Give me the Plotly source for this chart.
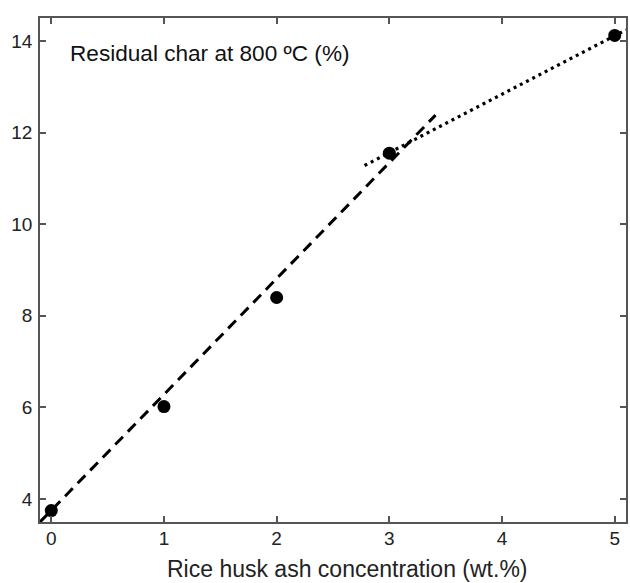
import plotly.graph_objects as go

x_conc = [0, 1, 2, 3, 5]
y_char = [3.75, 6.02, 8.4, 11.55, 14.12]

fit1_x = [-0.1, 3.41]
fit1_y = [3.50, 12.38]
fit2_x = [2.78, 5.1]
fit2_y = [11.28, 14.24]

x_ticks = [0, 1, 2, 3, 4, 5]
y_ticks = [4, 6, 8, 10, 12, 14]

FONT = "Liberation Sans, Arial"

fig = go.Figure()
fig.add_trace(go.Scatter(x=fit1_x, y=fit1_y, mode="lines",
                         line=dict(color="black", width=3, dash="11px,7px"),
                         showlegend=False, cliponaxis=False))
fig.add_trace(go.Scatter(x=fit2_x, y=fit2_y, mode="lines",
                         line=dict(color="black", width=3.2, dash="3px,4px"),
                         showlegend=False))
fig.add_trace(go.Scatter(x=x_conc, y=y_char, mode="markers",
                         marker=dict(color="black", size=13),
                         showlegend=False, cliponaxis=False))

axis_common = dict(showgrid=False, zeroline=False, showline=True, linecolor="#555555",
                   linewidth=1.5, mirror="ticks", ticks="inside", ticklen=6,
                   tickcolor="#555555", tickwidth=1.5,
                   tickfont=dict(family=FONT, size=19, color="#222"))

fig.update_xaxes(range=[-0.1, 5.1], tickvals=x_ticks, **axis_common,
                 ticklabelstandoff=-2)
fig.update_yaxes(range=[3.5, 14.5], tickvals=y_ticks, **axis_common,
                 ticklabelstandoff=2)

fig.add_annotation(text="Rice husk ash concentration (wt.%)", xref="paper", yref="paper",
                   x=0.524, y=-0.093, xanchor="center", yanchor="middle", showarrow=False,
                   font=dict(family=FONT, size=23, color="#222"))

fig.add_annotation(text="Residual char at 800 ºC (%)", xref="paper", yref="paper",
                   x=0.047, y=0.930, xanchor="left", yanchor="middle", showarrow=False,
                   font=dict(family=FONT, size=22.6, color="#111"))

fig.update_layout(width=630, height=583, margin=dict(l=40, r=2, t=18, b=61),
                  plot_bgcolor="white", paper_bgcolor="white")

fig.write_html("out.html")
